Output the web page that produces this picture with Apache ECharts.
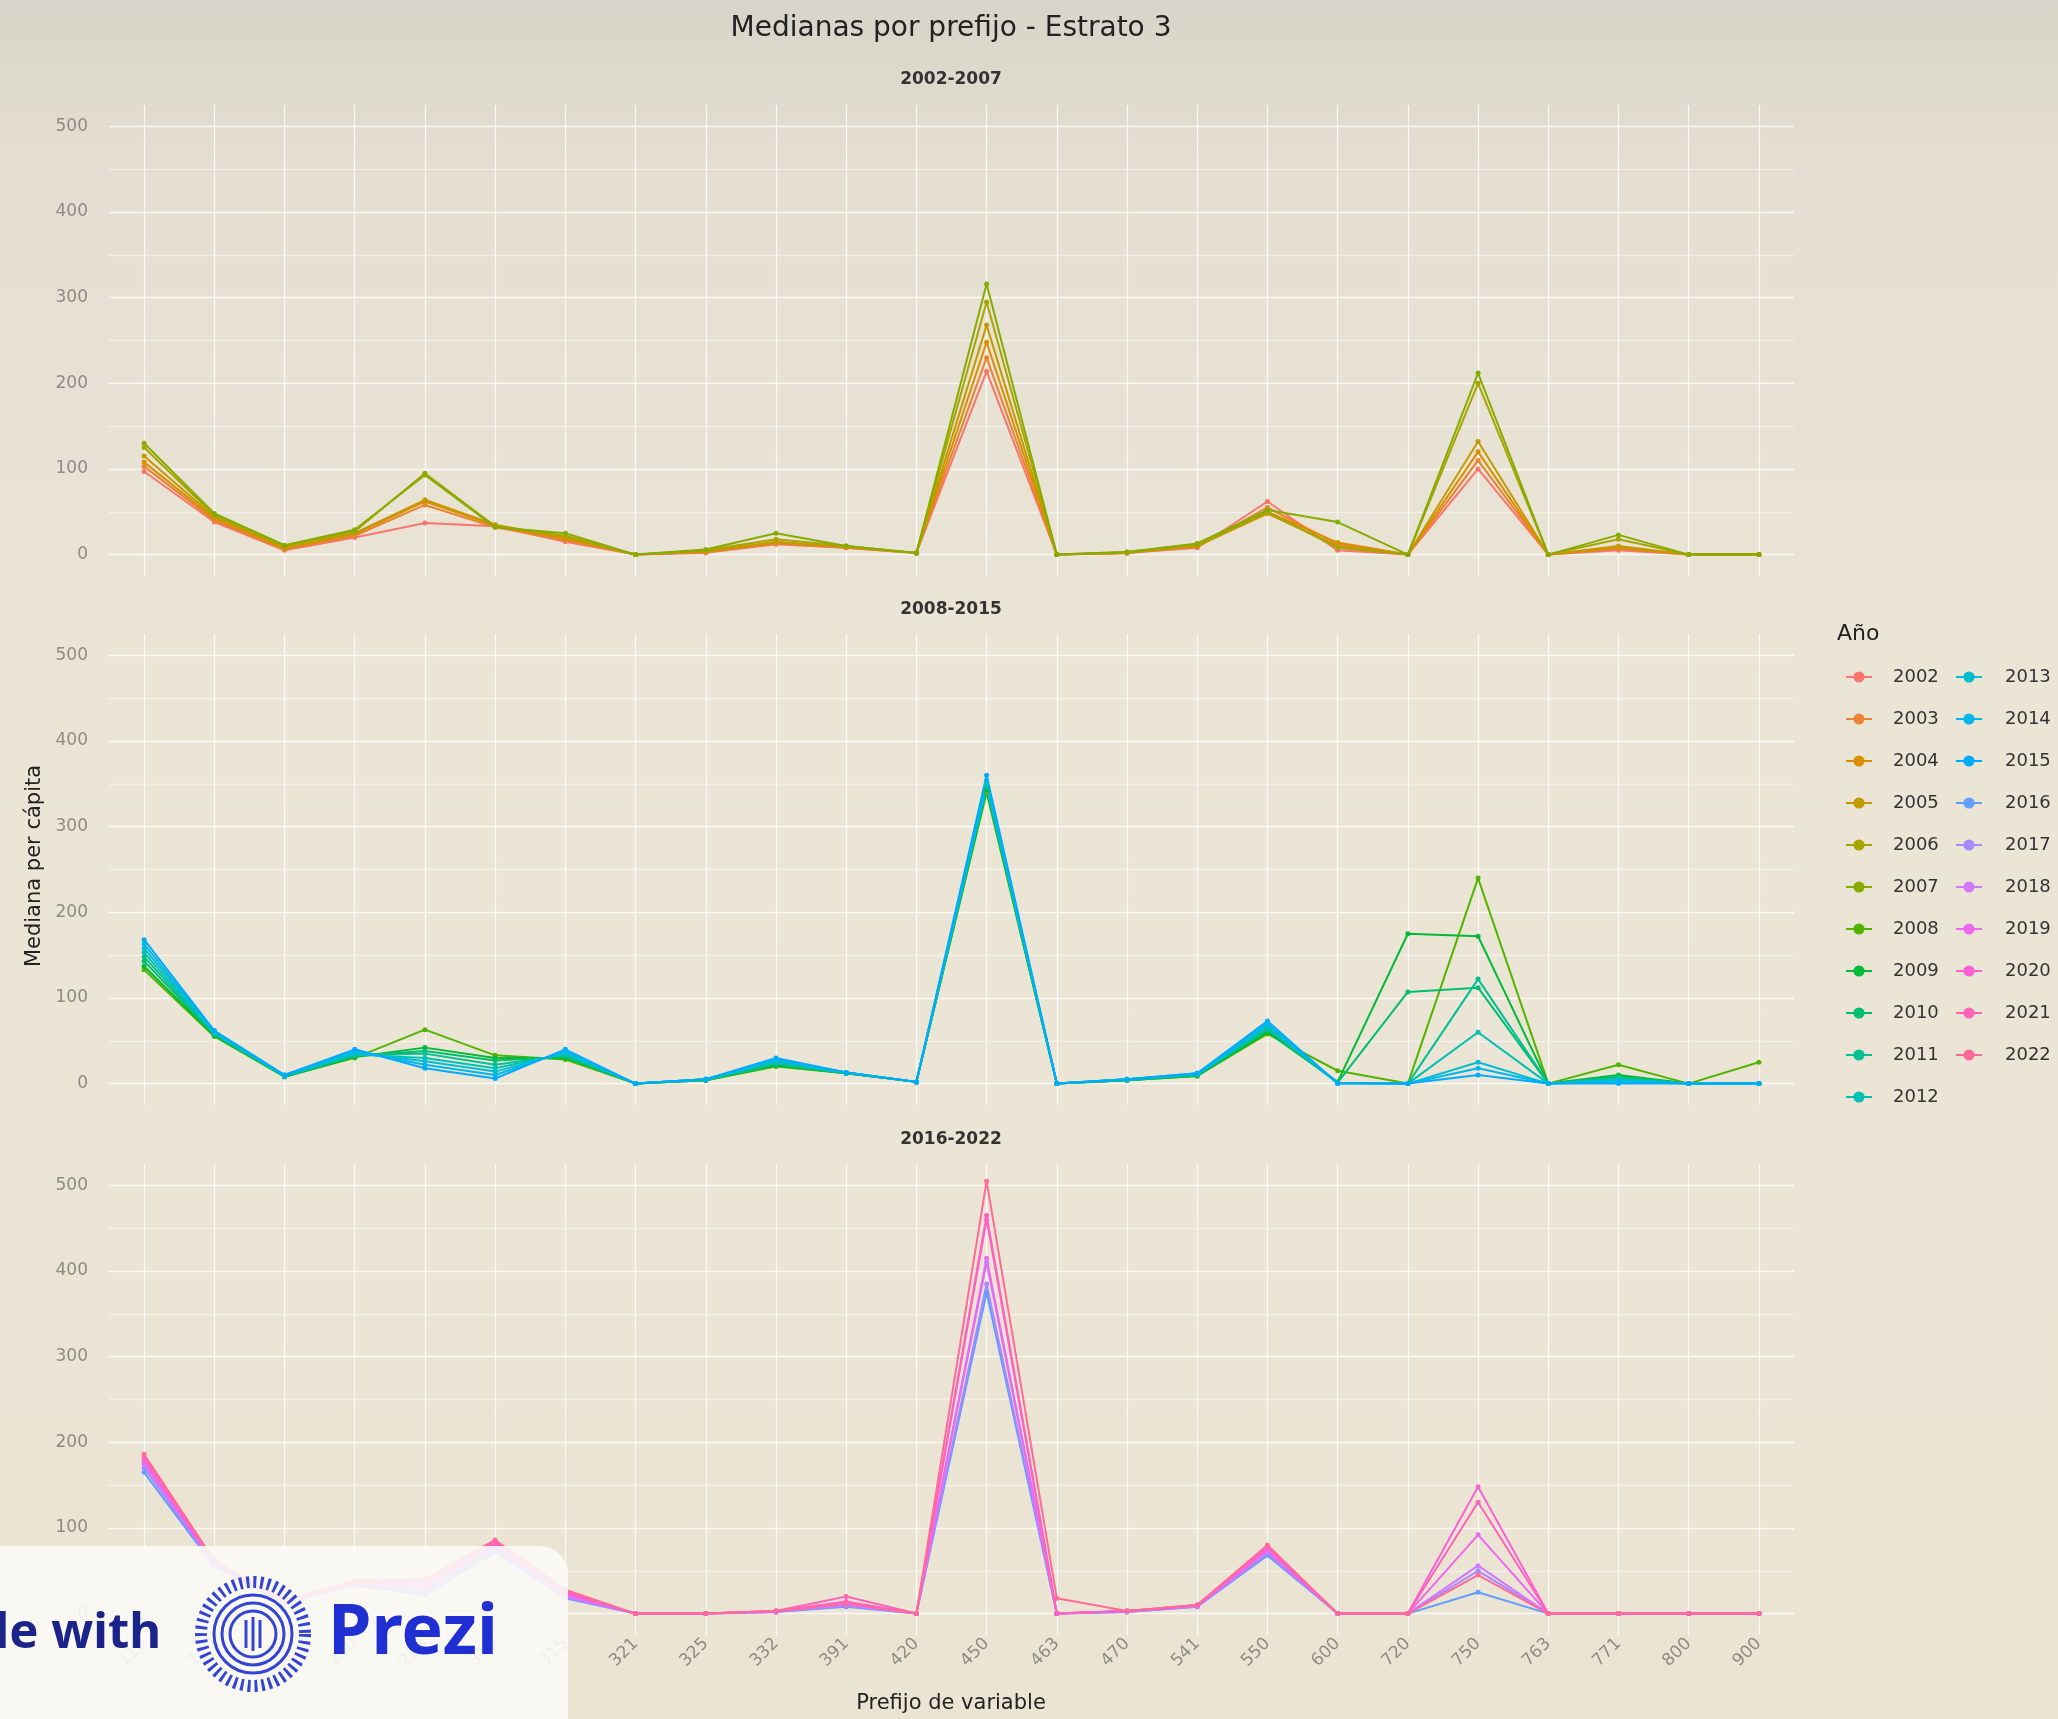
<!DOCTYPE html>
<html>
<head>
<meta charset="utf-8">
<script src="https://cdn.jsdelivr.net/npm/echarts@6/dist/echarts.min.js"></script>
<style>
  html, body { margin: 0; padding: 0; }
  #chart { width: 2058px; height: 1719px; }
</style>
</head>
<body>
<div id="chart"></div>
<script>
// categorías del eje x (prefijo de variable)
const prefijos = ['110', '120', '130', '210', '220', '310', '315', '321', '325', '332', '391', '420',
  '450', '463', '470', '541', '550', '600', '720', '750', '763', '771', '800', '900']

const facetas = ['2002-2007', '2008-2015', '2016-2022']
const ticksY = [0, 100, 200, 300, 400, 500]

// medianas por año
const m2002 = [97, 38, 5, 20, 37, 33, 15, 0, 2, 12, 8, 2, 214, 0, 2, 8, 62, 5, 0, 100, 0, 5, 0, 0]
const m2003 = [103, 40, 6, 22, 58, 32, 17, 0, 3, 13, 8, 2, 230, 0, 2, 9, 55, 12, 0, 110, 0, 7, 0, 0]
const m2004 = [108, 42, 7, 24, 62, 34, 18, 0, 3, 14, 9, 2, 248, 0, 2, 10, 50, 14, 0, 120, 0, 8, 0, 0]
const m2005 = [115, 44, 8, 25, 64, 35, 20, 0, 4, 15, 9, 2, 268, 0, 2, 10, 48, 10, 0, 132, 0, 10, 0, 0]
const m2006 = [125, 46, 10, 27, 95, 33, 22, 0, 5, 18, 10, 2, 295, 0, 3, 12, 50, 8, 0, 200, 0, 18, 0, 0]
const m2007 = [130, 48, 11, 29, 93, 32, 25, 0, 6, 25, 10, 2, 316, 0, 3, 13, 52, 38, 0, 212, 0, 23, 0, 0]

const m2008 = [133, 55, 8, 30, 63, 33, 28, 0, 4, 20, 12, 2, 340, 0, 4, 9, 58, 15, 0, 240, 0, 22, 0, 25]
const m2009 = [137, 56, 8, 31, 42, 30, 30, 0, 4, 21, 12, 2, 343, 0, 4, 9, 60, 2, 175, 172, 0, 10, 0, 0]
const m2010 = [143, 57, 8, 32, 38, 27, 31, 0, 4, 22, 12, 2, 345, 0, 4, 10, 62, 1, 107, 112, 0, 8, 0, 0]
const m2011 = [148, 58, 9, 33, 35, 22, 33, 0, 5, 24, 12, 2, 347, 0, 4, 10, 64, 1, 0, 122, 0, 6, 0, 0]
const m2012 = [153, 59, 9, 34, 30, 18, 35, 0, 5, 25, 13, 2, 349, 0, 5, 11, 66, 1, 0, 60, 0, 5, 0, 0]
const m2013 = [158, 60, 9, 36, 26, 14, 36, 0, 5, 27, 13, 2, 351, 0, 5, 11, 68, 1, 0, 25, 0, 4, 0, 0]
const m2014 = [163, 61, 10, 38, 22, 10, 38, 0, 5, 28, 13, 2, 354, 0, 5, 12, 70, 0, 0, 18, 0, 2, 0, 0]
const m2015 = [168, 62, 10, 40, 18, 6, 40, 0, 5, 30, 13, 2, 360, 0, 5, 12, 73, 0, 0, 10, 0, 0, 0, 0]

const m2016 = [165, 55, 12, 33, 22, 72, 18, 0, 0, 2, 8, 0, 375, 0, 2, 8, 68, 0, 0, 25, 0, 0, 0, 0]
const m2017 = [170, 56, 12, 34, 25, 75, 19, 0, 0, 2, 9, 0, 385, 0, 2, 8, 70, 0, 0, 50, 0, 0, 0, 0]
const m2018 = [174, 58, 13, 35, 28, 77, 20, 0, 0, 2, 10, 0, 410, 0, 3, 9, 72, 0, 0, 56, 0, 0, 0, 0]
const m2019 = [177, 59, 13, 36, 32, 80, 22, 0, 0, 3, 12, 0, 415, 0, 3, 9, 74, 0, 0, 92, 0, 0, 0, 0]
const m2020 = [180, 60, 14, 37, 35, 82, 24, 0, 0, 3, 14, 0, 460, 0, 3, 10, 76, 0, 0, 148, 0, 0, 0, 0]
const m2021 = [183, 61, 14, 38, 38, 84, 26, 0, 0, 3, 20, 0, 465, 0, 3, 10, 78, 0, 0, 130, 0, 0, 0, 0]
const m2022 = [186, 62, 15, 39, 40, 86, 28, 0, 0, 3, 12, 0, 505, 18, 3, 10, 80, 0, 0, 45, 0, 0, 0, 0]

// año -> [datos, faceta]
const anios = [
  ['2002', m2002, 0], ['2003', m2003, 0], ['2004', m2004, 0], ['2005', m2005, 0],
  ['2006', m2006, 0], ['2007', m2007, 0],
  ['2008', m2008, 1], ['2009', m2009, 1], ['2010', m2010, 1], ['2011', m2011, 1],
  ['2012', m2012, 1], ['2013', m2013, 1], ['2014', m2014, 1], ['2015', m2015, 1],
  ['2016', m2016, 2], ['2017', m2017, 2], ['2018', m2018, 2], ['2019', m2019, 2],
  ['2020', m2020, 2], ['2021', m2021, 2], ['2022', m2022, 2]
]

// paleta por defecto de ggplot (hcl, c = 100, l = 65)
const hcl = (h, c, l) => {
  const Xn = 0.95047, Yn = 1, Zn = 1.08883
  const un = 4 * Xn / (Xn + 15 * Yn + 3 * Zn)
  const vn = 9 * Yn / (Xn + 15 * Yn + 3 * Zn)
  const r = h * Math.PI / 180
  const U = c * Math.cos(r), V = c * Math.sin(r)
  const Y = Yn * (l > 8 ? Math.pow((l + 16) / 116, 3) : l / 903.3)
  const up = U / (13 * l) + un, vp = V / (13 * l) + vn
  const X = 9 * Y * up / (4 * vp)
  const Z = -X / 3 - 5 * Y + 3 * Y / vp
  const g = v => {
    v = v > 0.00304 ? 1.055 * Math.pow(v, 1 / 2.4) - 0.055 : 12.92 * v
    return Math.round(Math.max(0, Math.min(1, v)) * 255).toString(16).padStart(2, '0')
  }
  return '#' + g(3.240479 * X - 1.53715 * Y - 0.498535 * Z) +
    g(-0.969256 * X + 1.875992 * Y + 0.041556 * Z) +
    g(0.055648 * X - 0.204043 * Y + 1.057311 * Z)
}
const colores = anios.map((a, i) => hcl(15 + i * 360 / anios.length, 100, 65))

const fuente = '"DejaVu Sans", sans-serif'
const gridTops = [105, 634, 1164]
const gridLeft = 109
const gridWidth = 1685
const gridHeight = 471
const lineaMayor = 'rgba(255,255,255,0.8)'
const lineaMenor = 'rgba(255,255,255,0.45)'
const azulPrezi = '#3445d4'

const chart = echarts.init(document.getElementById('chart'))

const option = {
  animation: false,
  backgroundColor: {
    type: 'linear', x: 0, y: 0, x2: 0, y2: 1,
    colorStops: [
      { offset: 0, color: '#d8d4c9' },
      { offset: 0.1, color: '#e4dfd1' },
      { offset: 0.4, color: '#ebe5d6' },
      { offset: 1, color: '#ebe4d3' }
    ]
  },
  grid: gridTops.map(t => ({ left: gridLeft, top: t, width: gridWidth, height: gridHeight })),
  xAxis: gridTops.map((t, i) => ({
    type: 'category',
    gridIndex: i,
    data: prefijos,
    boundaryGap: true,
    axisLine: { show: false },
    axisTick: { show: false },
    axisLabel: {
      show: i === 2,
      interval: 0,
      rotate: 45,
      margin: 6,
      fontFamily: fuente,
      fontSize: 17,
      color: '#8f8b84'
    },
    splitLine: {
      show: true,
      interval: 0,
      alignWithLabel: true,
      lineStyle: { color: lineaMayor, width: 1.3 }
    }
  })),
  yAxis: gridTops.map((t, i) => ({
    type: 'value',
    gridIndex: i,
    min: -25,
    max: 525,
    interval: 25,
    axisLine: { show: false },
    axisTick: { show: false },
    axisLabel: {
      margin: 21,
      fontFamily: fuente,
      fontSize: 17,
      color: '#8f8b84',
      formatter: v => (ticksY.includes(v) ? String(v) : '')
    },
    splitLine: {
      show: true,
      showMinLine: true,
      showMaxLine: true,
      lineStyle: { color: ['transparent', lineaMayor, 'transparent', lineaMenor], width: 1.3 }
    }
  })),
  legend: [
    {
      data: anios.slice(0, 11).map(a => a[0]),
      orient: 'vertical',
      left: 1840,
      top: 663,
      itemWidth: 26,
      itemHeight: 14,
      itemGap: 24,
      textStyle: { fontFamily: fuente, fontSize: 18, lineHeight: 18, color: '#333', padding: [0, 0, 0, 16] }
    },
    {
      data: anios.slice(11).map(a => a[0]),
      orient: 'vertical',
      left: 1950,
      top: 663,
      itemWidth: 26,
      itemHeight: 14,
      itemGap: 24,
      textStyle: { fontFamily: fuente, fontSize: 18, lineHeight: 18, color: '#333', padding: [0, 0, 0, 18] }
    }
  ],
  series: anios.map((a, i) => ({
    name: a[0],
    type: 'line',
    xAxisIndex: a[2],
    yAxisIndex: a[2],
    data: a[1],
    color: colores[i],
    symbol: 'circle',
    symbolSize: 5,
    lineStyle: { width: 2 }
  })),
  graphic: [
    {
      type: 'text', x: 951, y: 29,
      style: { text: 'Medianas por prefijo - Estrato 3', font: '28px ' + fuente, fill: '#222', align: 'center', verticalAlign: 'middle' }
    },
    ...facetas.map((f, i) => ({
      type: 'text', x: 951, y: [80, 610, 1140][i],
      style: { text: f, font: 'bold 17px ' + fuente, fill: '#333', align: 'center', verticalAlign: 'middle' }
    })),
    {
      type: 'text', x: 35, y: 866, rotation: Math.PI / 2,
      style: { text: 'Mediana per cápita', font: '21px ' + fuente, fill: '#222', align: 'center', verticalAlign: 'middle' }
    },
    {
      type: 'text', x: 951, y: 1704,
      style: { text: 'Prefijo de variable', font: '21px ' + fuente, fill: '#222', align: 'center', verticalAlign: 'middle' }
    },
    {
      type: 'text', x: 1837, y: 634,
      style: { text: 'Año', font: '22px ' + fuente, fill: '#222', align: 'left', verticalAlign: 'middle' }
    },
    // marca de agua de Prezi (encima de todo, algo translúcida)
    { type: 'rect', zlevel: 5, shape: { x: -40, y: 1546, width: 608, height: 220, r: 28 }, style: { fill: 'rgba(251,250,246,0.9)' } },
    {
      type: 'text', zlevel: 5, x: 161, y: 1634,
      style: { text: 'Made with', font: 'bold 49px "Noto Sans", sans-serif', fill: '#1b2489', align: 'right', verticalAlign: 'middle' }
    },
    { type: 'circle', zlevel: 5, shape: { cx: 253, cy: 1634, r: 52 }, style: { fill: 'none', stroke: azulPrezi, lineWidth: 12, lineDash: [3, 4] } },
    { type: 'circle', zlevel: 5, shape: { cx: 253, cy: 1634, r: 39 }, style: { fill: 'none', stroke: azulPrezi, lineWidth: 3 } },
    { type: 'circle', zlevel: 5, shape: { cx: 253, cy: 1634, r: 31 }, style: { fill: 'none', stroke: azulPrezi, lineWidth: 3 } },
    { type: 'circle', zlevel: 5, shape: { cx: 253, cy: 1634, r: 23 }, style: { fill: 'none', stroke: azulPrezi, lineWidth: 3 } },
    { type: 'line', zlevel: 5, shape: { x1: 246, y1: 1620, x2: 246, y2: 1648 }, style: { stroke: azulPrezi, lineWidth: 3 } },
    { type: 'line', zlevel: 5, shape: { x1: 253, y1: 1617, x2: 253, y2: 1651 }, style: { stroke: azulPrezi, lineWidth: 3 } },
    { type: 'line', zlevel: 5, shape: { x1: 260, y1: 1620, x2: 260, y2: 1648 }, style: { stroke: azulPrezi, lineWidth: 3 } },
    {
      type: 'text', zlevel: 5, x: 328, y: 1634,
      style: { text: 'Prezi', font: 'bold 70px "Noto Sans", sans-serif', fill: '#1f2fd1', align: 'left', verticalAlign: 'middle' }
    }
  ]
}

chart.setOption(option)
</script>
</body>
</html>
